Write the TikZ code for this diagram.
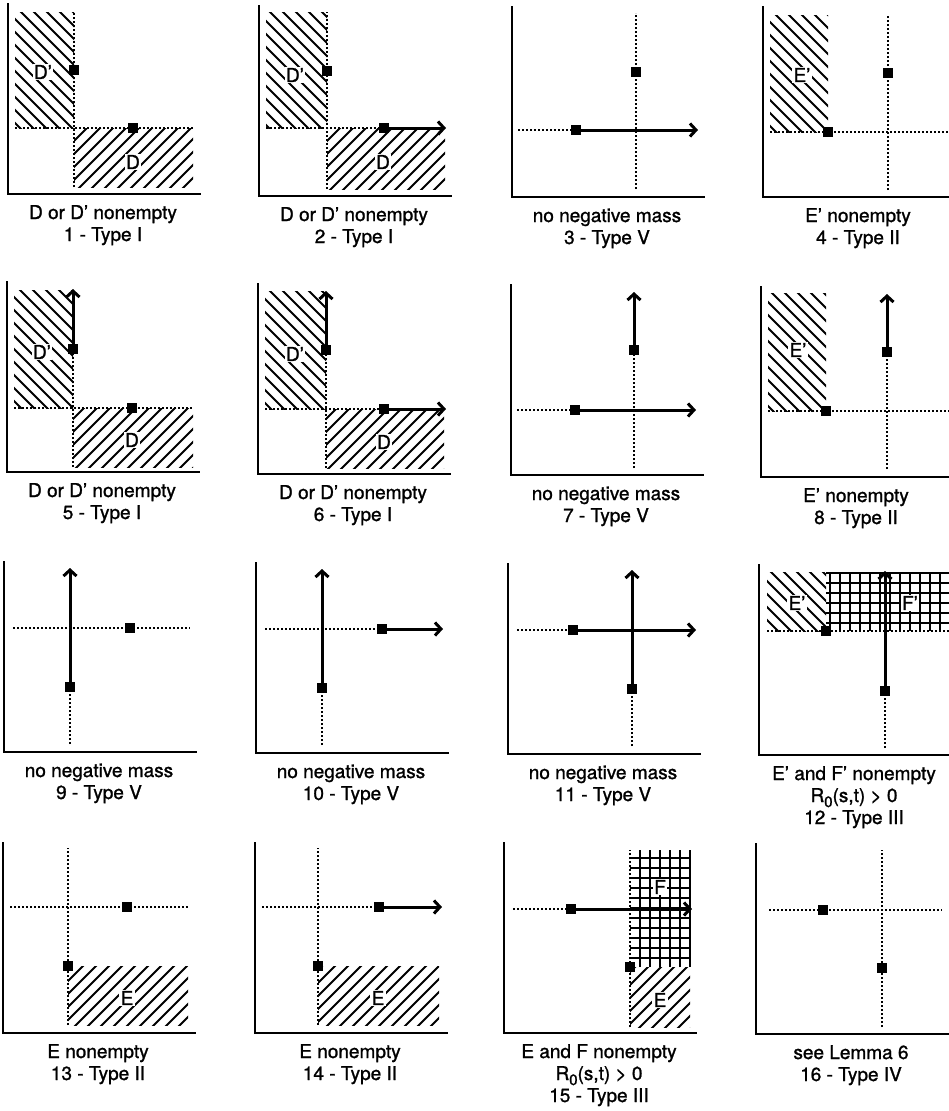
\documentclass[tikz,border=0pt]{standalone}
\usepackage{fontspec}
\setmainfont{TeX Gyre Heros}[RawFeature={embolden=1.2}]
\usetikzlibrary{arrows.meta}
\tikzset{
 axisline/.style={line width=2.2pt, line cap=rect},
 dots/.style={line width=1.8pt, dash pattern=on 2pt off 2pt},
 arr/.style={line width=3pt, -{Straight Barb[length=6pt,width=13pt]}},
 sq/.style={fill=black, minimum size=10.5pt, inner sep=0pt, draw=none, rectangle},
 hat/.style={line width=2pt},
 gridl/.style={line width=2pt},
 reg/.style={fill=white, inner sep=1.2pt, font=\fontsize{19}{19}\selectfont},
 captxt/.style={anchor=base, inner sep=0pt, font=\fontsize{19}{22}\selectfont},
}
\newcommand\hatchNW[4]{\begin{scope}\clip (#1,#2) rectangle (#3,#4);
  \foreach \k in {0,13,...,520} \draw[hat] (\k,0) -- ++(-260,260);\end{scope}}
\newcommand\hatchNE[4]{\begin{scope}\clip (#1,#2) rectangle (#3,#4);
  \foreach \k in {-260,-247,...,260} \draw[hat] (\k,0) -- ++(260,260);\end{scope}}
\newcommand\axes[1]{\coordinate (#1t) at (0,190); \coordinate (#1o) at (0,0); \coordinate (#1r) at (192,0);
  \draw[axisline] (#1t) -- (#1o) -- (#1r);}
\newcommand\captwo[3]{\node[captxt] (#1ca) at (95,-25) {#2}; \node[captxt] (#1cb) at (95,-47) {#3};}
\newcommand\capthree[4]{\node[captxt] (#1ca) at (95,-25) {#2}; \node[captxt] (#1cb) at (95,-47) {#3}; \node[captxt] (#1cc) at (95,-69) {#4};}
\newcommand\Rzero{R\raisebox{-5pt}{\fontsize{15}{15}\selectfont 0}(s,t) > 0}
\begin{document}
\begin{tikzpicture}[x=1pt,y=1pt]
\useasboundingbox (0,0) rectangle (948,-1111);
% ---------- Row 1 ----------
% Panel 1
\begin{scope}[shift={(8,-194)}]
 \hatchNW{7}{66}{66}{182}
 \hatchNE{66}{7}{185}{66}
 \axes{p1}
 \draw[dots] (66,7) -- (66,182);
 \draw[dots] (7,66) -- (185,66);
 \node[sq] (p1a) at (66,124) {};
 \node[sq] (p1b) at (125,66) {};
 \node[reg] (p1l1) at (35,122) {D'};
 \node[reg] (p1l2) at (125,32) {D};
 \captwo{p1}{D or D' nonempty}{1 - Type I}
\end{scope}
% Panel 2
\begin{scope}[shift={(259,-196)}]
 \hatchNW{7}{68}{68}{184}
 \hatchNE{68}{7}{186}{68}
 \axes{p2}
 \draw[dots] (68,7) -- (68,184);
 \draw[dots] (7,68) -- (125,68);
 \node[sq] (p2a) at (68,125) {};
 \node[sq] (p2b) at (125,68) {};
 \coordinate (p2e) at (187,68);
 \draw[arr] (p2b.east) -- (p2e);
 \node[reg] (p2l1) at (36,121) {D'};
 \node[reg] (p2l2) at (124,34) {D};
 \captwo{p2}{D or D' nonempty}{2 - Type I}
\end{scope}
% Panel 3
\begin{scope}[shift={(512,-197)}]
 \axes{p3}
 \draw[dots] (124,8) -- (124,184);
 \draw[dots] (6,67) -- (64,67);
 \node[sq] (p3a) at (124,125) {};
 \node[sq] (p3b) at (64,67) {};
 \coordinate (p3e) at (186,67);
 \draw[arr] (p3b.east) -- (p3e);
 \captwo{p3}{no negative mass}{3 - Type V}
\end{scope}
% Panel 4
\begin{scope}[shift={(763,-197)}]
 \hatchNW{7}{65}{65}{182}
 \axes{p4}
 \draw[dots] (125,7) -- (125,182);
 \draw[dots] (7,65) -- (186,65);
 \node[sq] (p4a) at (125,124) {};
 \node[sq] (p4b) at (65,65) {};
 \node[reg] (p4l1) at (39,122) {E'};
 \captwo{p4}{E' nonempty}{4 - Type II}
\end{scope}
% ---------- Row 2 ----------
% Panel 5
\begin{scope}[shift={(7,-472)}]
 \hatchNW{7}{64}{66}{182}
 \hatchNE{66}{5}{186}{64}
 \axes{p5}
 \draw[dots] (66,5) -- (66,123);
 \draw[dots] (7,64) -- (186,64);
 \node[sq] (p5a) at (66,123) {};
 \node[sq] (p5b) at (125,64) {};
 \coordinate (p5e) at (66,183);
 \draw[arr] (p5a.north) -- (p5e);
 \node[reg] (p5l1) at (35,120) {D'};
 \node[reg] (p5l2) at (125,32) {D};
 \captwo{p5}{D or D' nonempty}{5 - Type I}
\end{scope}
% Panel 6
\begin{scope}[shift={(258,-474)}]
 \hatchNW{7}{65}{68}{183}
 \hatchNE{68}{6}{186}{65}
 \axes{p6}
 \draw[dots] (68,6) -- (68,124);
 \draw[dots] (7,65) -- (126,65);
 \node[sq] (p6a) at (68,124) {};
 \node[sq] (p6b) at (126,65) {};
 \coordinate (p6e) at (68,183);
 \coordinate (p6f) at (188,65);
 \draw[arr] (p6a.north) -- (p6e);
 \draw[arr] (p6b.east) -- (p6f);
 \node[reg] (p6l1) at (37,120) {D'};
 \node[reg] (p6l2) at (126,32) {D};
 \captwo{p6}{D or D' nonempty}{6 - Type I}
\end{scope}
% Panel 7
\begin{scope}[shift={(511,-475)}]
 \axes{p7}
 \draw[dots] (123,7) -- (123,125);
 \draw[dots] (6,65) -- (64,65);
 \node[sq] (p7a) at (123,125) {};
 \node[sq] (p7b) at (64,65) {};
 \coordinate (p7e) at (123,183);
 \coordinate (p7f) at (185,65);
 \draw[arr] (p7a.north) -- (p7e);
 \draw[arr] (p7b.east) -- (p7f);
 \captwo{p7}{no negative mass}{7 - Type V}
\end{scope}
% Panel 8
\begin{scope}[shift={(761,-477)}]
 \hatchNW{7}{66}{65}{184}
 \axes{p8}
 \draw[dots] (126,8) -- (126,125);
 \draw[dots] (7,66) -- (188,66);
 \node[sq] (p8a) at (126,125) {};
 \node[sq] (p8b) at (65,66) {};
 \coordinate (p8e) at (126,183);
 \draw[arr] (p8a.north) -- (p8e);
 \node[reg] (p8l1) at (37,127) {E'};
 \captwo{p8}{E' nonempty}{8 - Type II}
\end{scope}
% ---------- Row 3 ----------
% Panel 9
\begin{scope}[shift={(4,-752)}]
 \axes{p9}
 \draw[dots] (66,8) -- (66,65);
 \draw[dots] (9,124) -- (186,124);
 \node[sq] (p9a) at (66,65) {};
 \node[sq] (p9b) at (126,124) {};
 \coordinate (p9e) at (66,184);
 \draw[arr] (p9a.north) -- (p9e);
 \captwo{p9}{no negative mass}{9 - Type V}
\end{scope}
% Panel 10
\begin{scope}[shift={(256,-753)}]
 \axes{p10}
 \draw[dots] (66,8) -- (66,65);
 \draw[dots] (9,124) -- (126,124);
 \node[sq] (p10a) at (66,65) {};
 \node[sq] (p10b) at (126,124) {};
 \coordinate (p10e) at (66,184);
 \coordinate (p10f) at (187,124);
 \draw[arr] (p10a.north) -- (p10e);
 \draw[arr] (p10b.east) -- (p10f);
 \captwo{p10}{no negative mass}{10 - Type V}
\end{scope}
% Panel 11
\begin{scope}[shift={(508,-754)}]
 \axes{p11}
 \draw[dots] (124,8) -- (124,65);
 \draw[dots] (9,124) -- (65,124);
 \node[sq] (p11a) at (124,65) {};
 \node[sq] (p11b) at (65,124) {};
 \coordinate (p11e) at (124,184);
 \coordinate (p11f) at (188,124);
 \draw[arr] (p11a.north) -- (p11e);
 \draw[arr] (p11b.east) -- (p11f);
 \captwo{p11}{no negative mass}{11 - Type V}
\end{scope}
% Panel 12
\begin{scope}[shift={(759,-755)}]
 \hatchNW{8}{124}{67}{183}
 \foreach \x in {71,81,...,191} \draw[gridl] (\x,124) -- (\x,182);
 \foreach \y in {132,142,...,182} \draw[gridl] (67,\y) -- (192,\y);
 \axes{p12}
 \draw[dots] (126,7) -- (126,64);
 \draw[dots] (8,124) -- (192,124);
 \node[sq] (p12a) at (126,64) {};
 \node[sq] (p12b) at (67,124) {};
 \coordinate (p12e) at (126,184);
 \draw[arr] (p12a.north) -- (p12e);
 \node[reg] (p12l1) at (38,152) {E'};
 \node[reg] (p12l2) at (151,152) {F'};
 \capthree{p12}{E' and F' nonempty}{\Rzero}{12 - Type III}
\end{scope}
% ---------- Row 4 ----------
% Panel 13
\begin{scope}[shift={(3,-1033)}]
 \hatchNE{65}{8}{185}{67}
 \axes{p13}
 \draw[dots] (65,8) -- (65,185);
 \draw[dots] (7,126) -- (185,126);
 \node[sq] (p13a) at (65,67) {};
 \node[sq] (p13b) at (124,126) {};
 \node[reg] (p13l1) at (124,35) {E};
 \captwo{p13}{E nonempty}{13 - Type II}
\end{scope}
% Panel 14
\begin{scope}[shift={(255,-1033)}]
 \hatchNE{63}{8}{184}{67}
 \axes{p14}
 \draw[dots] (63,8) -- (63,185);
 \draw[dots] (7,126) -- (124,126);
 \node[sq] (p14a) at (63,67) {};
 \node[sq] (p14b) at (124,126) {};
 \coordinate (p14f) at (187,126);
 \draw[arr] (p14b.east) -- (p14f);
 \node[reg] (p14l1) at (123,35) {E};
 \captwo{p14}{E nonempty}{14 - Type II}
\end{scope}
% Panel 15
\begin{scope}[shift={(504,-1033)}]
 \hatchNE{126}{6}{186}{66}
 \foreach \x in {136,146,...,186} \draw[gridl] (\x,66) -- (\x,183);
 \foreach \y in {75,85,...,175} \draw[gridl] (126,\y) -- (186,\y);
 \axes{p15}
 \draw[dots] (126,6) -- (126,183);
 \draw[dots] (9,124) -- (67,124);
 \node[sq] (p15a) at (126,66) {};
 \node[sq] (p15b) at (67,124) {};
 \coordinate (p15f) at (188,124);
 \draw[arr] (p15b.east) -- (p15f);
 \node[reg] (p15l1) at (156,146) {F};
 \node[reg] (p15l2) at (156,33) {E};
 \capthree{p15}{E and F nonempty}{\Rzero}{15 - Type III}
\end{scope}
% Panel 16
\begin{scope}[shift={(756,-1034)}]
 \axes{p16}
 \draw[dots] (126,7) -- (126,184);
 \draw[dots] (13,124) -- (186,124);
 \node[sq] (p16a) at (126,66) {};
 \node[sq] (p16b) at (67,124) {};
 \captwo{p16}{see Lemma 6}{16 - Type IV}
\end{scope}
\end{tikzpicture}
\end{document}
